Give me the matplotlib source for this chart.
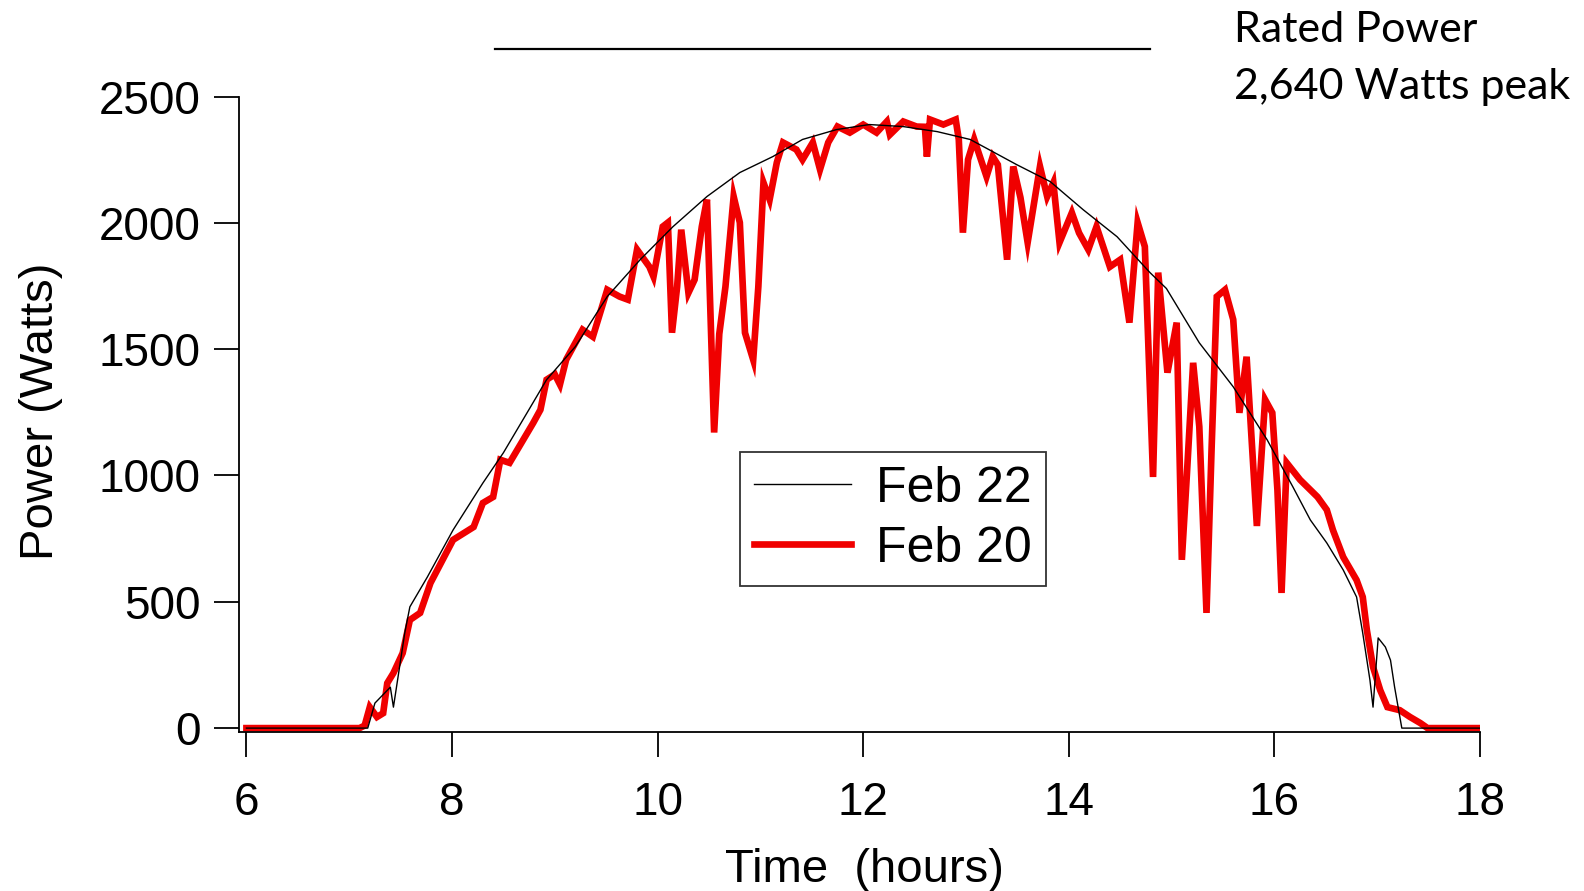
import matplotlib
matplotlib.use("Agg")
import matplotlib.pyplot as plt

# ---- data ----
feb22_hours = [6.00, 7.10, 7.18, 7.25, 7.40, 7.43, 7.54, 7.59, 7.76, 8.01, 8.30, 8.50,
               8.73, 8.92, 9.20, 9.51, 9.83, 10.15, 10.48, 10.80, 11.12, 11.41, 11.74,
               12.06, 12.39, 12.72, 13.04, 13.20, 13.49, 13.82, 14.14, 14.47, 14.79,
               14.95, 15.27, 15.60, 15.93, 16.18, 16.35, 16.51, 16.67, 16.80, 16.86,
               16.93, 16.96, 17.01, 17.08, 17.13, 17.17, 17.24, 18.00]
feb22_watts = [0, 0, 0, 99, 162, 83, 376, 480, 598, 784, 970, 1090,
               1248, 1379, 1510, 1708, 1854, 1985, 2104, 2199, 2262, 2330, 2369,
               2389, 2381, 2361, 2330, 2295, 2231, 2163, 2052, 1945, 1803,
               1740, 1525, 1351, 1141, 955, 824, 733, 626, 519, 376,
               190, 83, 357, 321, 269, 162, 0, 0]

feb20_hours = [6.00, 7.10, 7.15, 7.20, 7.27, 7.33, 7.37, 7.43, 7.52, 7.59, 7.69, 7.79,
               8.01, 8.21, 8.30, 8.40, 8.47, 8.56, 8.79, 8.86, 8.92, 9.00, 9.05, 9.11,
               9.27, 9.37, 9.51, 9.63, 9.71, 9.80, 9.92, 9.96, 10.05, 10.10, 10.14,
               10.19, 10.23, 10.30, 10.36, 10.43, 10.48, 10.51, 10.55, 10.60, 10.66,
               10.74, 10.80, 10.85, 10.93, 10.98, 11.03, 11.09, 11.16, 11.22, 11.35,
               11.41, 11.51, 11.58, 11.66, 11.75, 11.87, 12.00, 12.13, 12.23, 12.26,
               12.39, 12.52, 12.60, 12.62, 12.65, 12.78, 12.90, 12.93, 12.97, 13.02,
               13.08, 13.20, 13.26, 13.31, 13.40, 13.46, 13.53, 13.60, 13.72, 13.79,
               13.85, 13.91, 14.03, 14.10, 14.19, 14.27, 14.40, 14.50, 14.59, 14.67,
               14.74, 14.82, 14.87, 14.96, 15.05, 15.10, 15.15, 15.21, 15.27, 15.34,
               15.39, 15.44, 15.52, 15.60, 15.66, 15.73, 15.83, 15.91, 15.98, 16.03,
               16.07, 16.12, 16.25, 16.42, 16.51, 16.57, 16.67, 16.80, 16.86, 16.90,
               16.96, 17.03, 17.10, 17.22, 17.32, 17.42, 17.49, 18.00]
feb20_watts = [0, 0, 10, 83, 44, 59, 178, 218, 297, 428, 456, 574,
               745, 796, 891, 915, 1062, 1050, 1208, 1260, 1379, 1400, 1360, 1458,
               1577, 1549, 1735, 1708, 1696, 1894, 1826, 1787, 1985, 2001, 1565,
               1747, 1973, 1723, 1775, 1985, 2092, 1700, 1170, 1560, 1747,
               2104, 2001, 1565, 1458, 1747, 2159, 2092, 2239, 2318, 2290,
               2250, 2318, 2211, 2318, 2381, 2357, 2389, 2357, 2401, 2349,
               2401, 2381, 2380, 2262, 2409, 2389, 2409, 2330, 1961, 2250,
               2330, 2183, 2262, 2230, 1854, 2223, 2100, 1922, 2223, 2104,
               2159, 1922, 2040, 1960, 1894, 1985, 1826, 1854, 1605, 2001,
               1906, 994, 1803, 1407, 1605, 666, 1010, 1446, 1193, 456,
               1113, 1708, 1735, 1617, 1248, 1470, 800, 1300, 1248, 943,
               535, 1050, 983, 915, 864, 784, 677, 586, 519, 388,
               242, 150, 83, 71, 44, 20, 0, 0]

rated_level = 2690          # level of the rated-power bar as drawn
rated_span = [8.42, 14.79]  # hours covered by the bar
rated_text = ["Rated Power", "2,640 Watts peak"]

x_ticks = [6, 8, 10, 12, 14, 16, 18]
y_ticks = [0, 500, 1000, 1500, 2000, 2500]

# ---- figure ----
plt.rcParams['font.family'] = ['Liberation Sans', 'DejaVu Sans']
fig = plt.figure(figsize=(15.84, 8.91), dpi=100)
ax = fig.add_axes([0.1511, 0.178, 0.7832, 0.7928])

red_line, = ax.plot(feb20_hours, feb20_watts, color='#f00000', lw=4.8,
                    solid_joinstyle='miter', zorder=2, label='Feb 20')
black_line, = ax.plot(feb22_hours, feb22_watts, color='black', lw=1.0,
                      zorder=3, label='Feb 22')
ax.plot(rated_span, [rated_level, rated_level], color='black', lw=1.6, zorder=3)

ax.set_xlim(5.931, 18.0)
ax.set_ylim(-17, 2779)
ax.spines['top'].set_visible(False)
ax.spines['right'].set_visible(False)
ax.spines['left'].set_bounds(-17, 2500)
ax.spines['left'].set_linewidth(1.3)
ax.spines['bottom'].set_linewidth(1.3)

ax.set_xticks(x_ticks)
ax.set_yticks(y_ticks)
ax.tick_params(axis='both', direction='out', length=18, width=1.3,
               labelsize=33, pad=10)
ax.tick_params(axis='x', pad=17)

ax.set_xlabel('Time  (hours)', fontsize=34)
ax.set_ylabel('Power (Watts)', fontsize=34)
ax.xaxis.set_label_coords(0.504, -0.163)
ax.yaxis.set_label_coords(-0.142, 0.455)

leg = ax.legend(handles=[black_line, red_line], loc='upper left',
                bbox_to_anchor=(0.4035, 0.397), borderaxespad=0,
                fontsize=36, frameon=True, fancybox=False, shadow=False,
                handlelength=1.94, handletextpad=0.5, borderpad=0.28,
                labelspacing=0.28)
leg.get_frame().set_edgecolor('black')
leg.get_frame().set_linewidth(1.3)

fig.text(1234/1584, 1-42/891, rated_text[0], fontsize=31, family=['Lato', 'DejaVu Sans'],
         va='baseline', ha='left')
fig.text(1234/1584, 1-99/891, rated_text[1], fontsize=31, family=['Lato', 'DejaVu Sans'],
         va='baseline', ha='left')

fig.savefig('out.png', dpi=100)
